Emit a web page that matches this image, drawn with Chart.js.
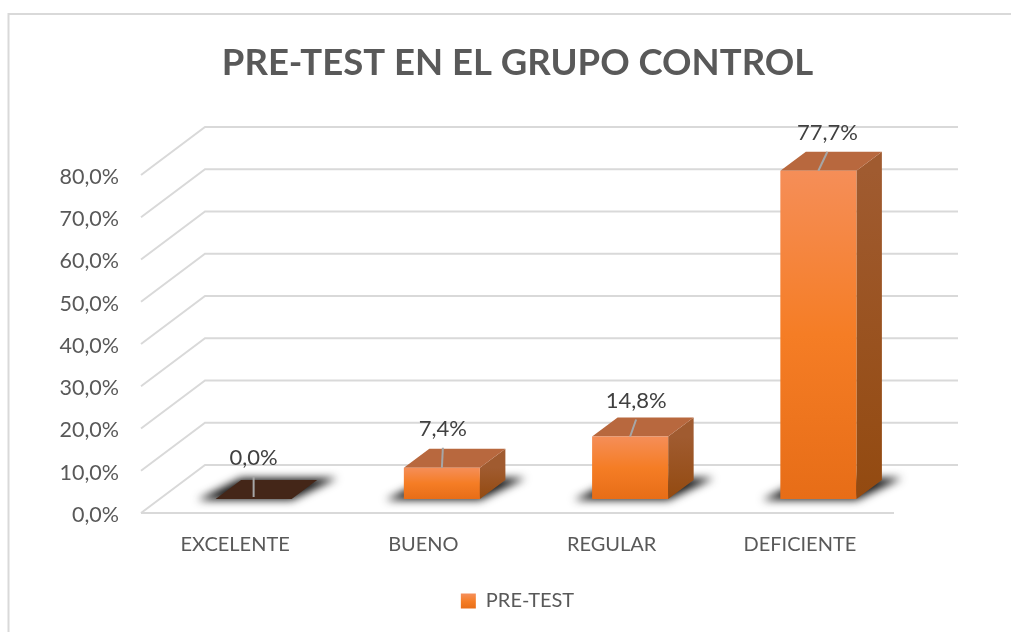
<!DOCTYPE html>
<html>
<head>
<meta charset="utf-8">
<title>PRE-TEST EN EL GRUPO CONTROL</title>
<script src="https://cdn.jsdelivr.net/npm/chart.js@4/dist/chart.umd.min.js"></script>
<style>
  html, body { margin: 0; padding: 0; background: #fff; }
  canvas { display: block; }
</style>
</head>
<body>
<canvas id="chart" width="1011" height="632"></canvas>
<script>
var categories = ['EXCELENTE', 'BUENO', 'REGULAR', 'DEFICIENTE'];
var seriesName = 'PRE-TEST';
var values = [0.0, 7.4, 14.8, 77.7];
var tickValues = [0, 10, 20, 30, 40, 50, 60, 70, 80];

// fake 3d: wall sits behind the axis plane, bars stand between the two
var wallDx = 64, wallDy = -48;
var barDx = 18.5, barDy = -14;
var depthDx = 25.5, depthDy = -19;
var fontName = 'Lato, Carlito, sans-serif';
var textColor = '#595959';
var gridColor = '#d9d9d9';

function pct(v) {
  return v.toFixed(1).replace('.', ',') + '%';
}

function frontGradient(ctx, top, bottom) {
  var g = ctx.createLinearGradient(0, top, 0, bottom);
  g.addColorStop(0, '#f58e58');
  g.addColorStop(0.5, '#f57d25');
  g.addColorStop(1, '#e76d17');
  return g;
}

var wallsPlugin = {
  id: 'walls',
  beforeDraw: function(chart) {
    var ctx = chart.ctx;
    ctx.save();
    ctx.strokeStyle = gridColor;
    ctx.lineWidth = 2;
    ctx.beginPath();
    ctx.moveTo(chart.width, 14);
    ctx.lineTo(8.5, 14);
    ctx.lineTo(8.5, chart.height);
    ctx.stroke();
    ctx.restore();
  },
  beforeDatasetsDraw: function(chart) {
    var ctx = chart.ctx, y = chart.scales.y, a = chart.chartArea;
    ctx.save();
    ctx.strokeStyle = gridColor;
    ctx.lineWidth = 2;
    tickValues.forEach(function(t) {
      var py = y.getPixelForValue(t);
      ctx.beginPath();
      ctx.moveTo(a.left, py);
      ctx.lineTo(a.left + wallDx, py + wallDy);
      ctx.lineTo(a.right + wallDx, py + wallDy);
      ctx.stroke();
    });
    ctx.beginPath();
    ctx.moveTo(a.left, a.bottom);
    ctx.lineTo(a.right, a.bottom);
    ctx.stroke();
    ctx.restore();
  }
};

var box3dPlugin = {
  id: 'box3d',
  beforeDatasetDraw: function(chart) {
    var ctx = chart.ctx;
    var bars = chart.getDatasetMeta(0).data;
    ctx.save();
    ctx.translate(barDx, barDy);

    // floor shadows first so no box gets covered by a neighbour's shadow
    bars.forEach(function(b) {
      var p = b.getProps(['x', 'base', 'width'], true);
      var x0 = p.x - p.width / 2, x1 = p.x + p.width / 2;
      ctx.save();
      ctx.filter = 'blur(4px)';
      ctx.fillStyle = 'rgba(20,20,20,1)';
      ctx.beginPath();
      ctx.moveTo(x0 - 18, p.base + 1);
      ctx.lineTo(x1, p.base + 1);
      ctx.lineTo(x1 + depthDx + 20, p.base + depthDy - 2);
      ctx.lineTo(x0 + depthDx, p.base + depthDy - 2);
      ctx.closePath();
      ctx.fill();
      ctx.restore();
    });

    bars.forEach(function(b, i) {
      var p = b.getProps(['x', 'y', 'base', 'width'], true);
      var x0 = p.x - p.width / 2, x1 = p.x + p.width / 2;
      if (values[i] > 0) {
        var side = ctx.createLinearGradient(0, p.y, 0, p.base);
        side.addColorStop(0, '#a05b30');
        side.addColorStop(1, '#934a10');
        ctx.fillStyle = side;
        ctx.beginPath();
        ctx.moveTo(x1, p.y);
        ctx.lineTo(x1 + depthDx, p.y + depthDy);
        ctx.lineTo(x1 + depthDx, p.base + depthDy);
        ctx.lineTo(x1, p.base);
        ctx.closePath();
        ctx.fill();
      }
      ctx.fillStyle = values[i] > 0 ? '#b8683e' : '#442618';
      ctx.beginPath();
      ctx.moveTo(x0, p.y);
      ctx.lineTo(x1, p.y);
      ctx.lineTo(x1 + depthDx, p.y + depthDy);
      ctx.lineTo(x0 + depthDx, p.y + depthDy);
      ctx.closePath();
      ctx.fill();
    });
    // left translated: the library's own bars are the front faces
  },
  afterDatasetDraw: function(chart) {
    chart.ctx.restore();
  },
  afterDatasetsDraw: function(chart) {
    var ctx = chart.ctx;
    var bars = chart.getDatasetMeta(0).data;
    var labelShift = [0, 1, 6, 9];
    var labelLift = [41, 39, 36, 38];
    ctx.save();
    ctx.font = '22px ' + fontName;
    ctx.textAlign = 'center';
    ctx.textBaseline = 'middle';
    bars.forEach(function(b, i) {
      var p = b.getProps(['x', 'y'], true);
      var cx = p.x + barDx, top = p.y + barDy;
      var lx = cx + labelShift[i], ly = top - labelLift[i];
      ctx.strokeStyle = '#a6a6a6';
      ctx.lineWidth = 2;
      ctx.beginPath();
      ctx.moveTo(cx, top - (values[i] > 0 ? 0 : 2));
      ctx.lineTo(lx, ly + 19);
      ctx.stroke();
      ctx.fillStyle = '#404040';
      ctx.fillText(pct(values[i]), lx, ly);
    });
    ctx.restore();
  }
};

var chart = new Chart(document.getElementById('chart').getContext('2d'), {
  type: 'bar',
  data: {
    labels: categories,
    datasets: [{
      label: seriesName,
      data: values,
      barPercentage: 0.404,
      categoryPercentage: 1,
      clip: false,
      backgroundColor: function(c) {
        var y = c.chart.scales.y;
        if (!y || c.dataIndex === undefined) return '#f57d25';
        return frontGradient(c.chart.ctx, y.getPixelForValue(values[c.dataIndex]), y.getPixelForValue(0));
      }
    }]
  },
  options: {
    responsive: false,
    animation: false,
    layout: { padding: { left: 24, bottom: 11 } },
    plugins: {
      tooltip: { enabled: false },
      title: {
        display: true,
        text: 'PRE-TEST EN EL GRUPO CONTROL',
        color: textColor,
        font: { family: fontName, size: 36.5, weight: 'bold', lineHeight: 1.2 },
        padding: { top: 41, bottom: 90.2 }
      },
      legend: {
        position: 'bottom',
        onClick: null,
        labels: {
          color: textColor,
          font: { family: fontName, size: 20 },
          boxWidth: 15,
          boxHeight: 15,
          generateLabels: function(c) {
            var g = frontGradient(c.ctx, 594, 609);
            return [{ text: seriesName, fillStyle: g, strokeStyle: g, lineWidth: 0, datasetIndex: 0, fontColor: textColor }];
          }
        }
      }
    },
    scales: {
      x: {
        afterFit: function(s) { s.height = 68; },
        grid: { display: false, drawTicks: false },
        border: { display: false },
        ticks: { color: textColor, font: { family: fontName, size: 20 }, padding: 20, maxRotation: 0 }
      },
      y: {
        min: 0,
        max: 80,
        afterFit: function(s) { s.width = 117; },
        afterBuildTicks: function(s) {
          s.ticks = tickValues.map(function(v) { return { value: v }; });
        },
        grid: { display: false, drawTicks: false },
        border: { display: false },
        ticks: {
          color: textColor,
          font: { family: fontName, size: 21.5 },
          padding: 22,
          labelOffset: 2,
          callback: function(v) { return pct(v); }
        }
      },
      // empty axis, only keeps the room the back wall needs on the right
      spacer: {
        position: 'right',
        afterFit: function(s) { s.width = 117; },
        grid: { display: false, drawTicks: false },
        border: { display: false },
        ticks: { display: false }
      }
    }
  },
  plugins: [wallsPlugin, box3dPlugin]
});
</script>
</body>
</html>
